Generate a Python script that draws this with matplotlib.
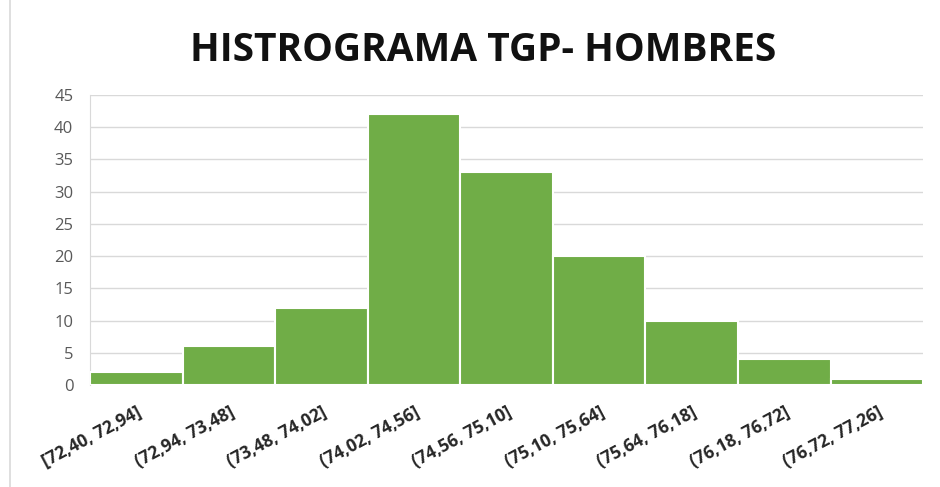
import numpy as np
import matplotlib.pyplot as plt
from matplotlib.lines import Line2D

# intervalos y frecuencias del histograma
intervalos = ['[72,40, 72,94]', '(72,94, 73,48]', '(73,48, 74,02]', '(74,02, 74,56]',
              '(74,56, 75,10]', '(75,10, 75,64]', '(75,64, 76,18]', '(76,18, 76,72]',
              '(76,72, 77,26]']
frecuencias = [2, 6, 12, 42, 33, 20, 10, 4, 1]

plt.rcParams['font.family'] = ['Open Sans', 'DejaVu Sans']

fig = plt.figure(figsize=(9.4, 4.87), dpi=100)
ax = fig.add_axes([0.0957, 0.2094, 0.8863, 0.5956])

x = np.arange(len(intervalos))
ax.bar(x, frecuencias, width=1.0, color='#70AD47', edgecolor='white', linewidth=1.5, zorder=3)

ax.set_xlim(-0.5, len(intervalos) - 0.5)
ax.set_ylim(0, 45)
ax.set_yticks(range(0, 46, 5))
ax.yaxis.grid(True, color='#D9D9D9', linewidth=1, zorder=0)

for s in ['top', 'right', 'bottom']:
    ax.spines[s].set_visible(False)
ax.spines['left'].set_color('#D9D9D9')

ax.tick_params(axis='y', length=0, labelsize=12, labelcolor='#595959', pad=12)
ax.tick_params(axis='x', length=0, pad=13)
ax.set_xticks(x)
ax.set_xticklabels(intervalos, rotation=28, ha='right', rotation_mode='anchor',
                   fontsize=12.5, fontweight='bold', color='#262626')

fig.text(0.514, 0.897, 'HISTROGRAMA TGP- HOMBRES', ha='center', va='center',
         fontsize=28, fontweight='bold', color='#111111')

# borde izquierdo del grafico
fig.add_artist(Line2D([10 / 940, 10 / 940], [0, 1], color='#D9D9D9', linewidth=1.2))

fig.savefig('out.png', dpi=100)
